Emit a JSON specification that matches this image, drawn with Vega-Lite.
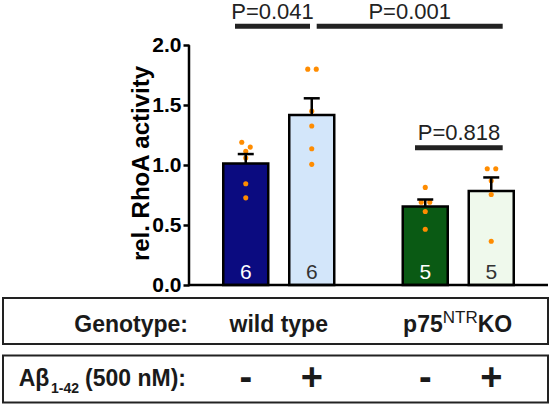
{
  "$schema": "https://vega.github.io/schema/vega-lite/v6.json",
  "padding": {"left": 2, "top": 0, "right": 0, "bottom": 0},
  "spacing": 0,
  "config": {"font": "Liberation Sans", "view": {"stroke": null}},
  "datasets": {
    "bars": [
      {"genotype": "wild type", "treatment": "-", "group": "WT-", "mean": 1.014, "upper": 1.092, "n": 6},
      {"genotype": "wild type", "treatment": "+", "group": "WT+", "mean": 1.418, "upper": 1.557, "n": 6},
      {"genotype": "p75NTRKO", "treatment": "-", "group": "KO-", "mean": 0.655, "upper": 0.713, "n": 5},
      {"genotype": "p75NTRKO", "treatment": "+", "group": "KO+", "mean": 0.783, "upper": 0.897, "n": 5}
    ],
    "points": [
      {"genotype": "wild type", "treatment": "-", "slot": "L", "value": 1.19},
      {"genotype": "wild type", "treatment": "-", "slot": "R", "value": 1.15},
      {"genotype": "wild type", "treatment": "-", "slot": "C", "value": 1.115},
      {"genotype": "wild type", "treatment": "-", "slot": "C", "value": 1.06},
      {"genotype": "wild type", "treatment": "-", "slot": "C", "value": 0.844},
      {"genotype": "wild type", "treatment": "-", "slot": "C", "value": 0.727},
      {"genotype": "wild type", "treatment": "+", "slot": "L", "value": 1.8},
      {"genotype": "wild type", "treatment": "+", "slot": "R", "value": 1.8},
      {"genotype": "wild type", "treatment": "+", "slot": "C", "value": 1.45},
      {"genotype": "wild type", "treatment": "+", "slot": "C", "value": 1.326},
      {"genotype": "wild type", "treatment": "+", "slot": "C", "value": 1.136},
      {"genotype": "wild type", "treatment": "+", "slot": "C", "value": 1.006},
      {"genotype": "p75NTRKO", "treatment": "-", "slot": "C", "value": 0.814},
      {"genotype": "p75NTRKO", "treatment": "-", "slot": "L", "value": 0.691},
      {"genotype": "p75NTRKO", "treatment": "-", "slot": "R", "value": 0.691},
      {"genotype": "p75NTRKO", "treatment": "-", "slot": "C", "value": 0.613},
      {"genotype": "p75NTRKO", "treatment": "-", "slot": "C", "value": 0.465},
      {"genotype": "p75NTRKO", "treatment": "+", "slot": "L", "value": 0.969},
      {"genotype": "p75NTRKO", "treatment": "+", "slot": "R", "value": 0.969},
      {"genotype": "p75NTRKO", "treatment": "+", "slot": "C", "value": 0.869},
      {"genotype": "p75NTRKO", "treatment": "+", "slot": "C", "value": 0.755},
      {"genotype": "p75NTRKO", "treatment": "+", "slot": "C", "value": 0.365}
    ],
    "sig": [
      {"label": "P=0.041", "from": "wild type", "to": "wild type", "level": 2.157},
      {"label": "P=0.001", "from": "wild type", "to": "p75NTRKO", "level": 2.157},
      {"label": "P=0.818", "from": "p75NTRKO", "to": "p75NTRKO", "level": 1.144}
    ],
    "one": [{}]
  },
  "vconcat": [
    {
      "width": 545,
      "height": 295,
      "layer": [
        {
          "data": {"name": "bars"},
          "mark": {"type": "bar", "stroke": "black", "strokeWidth": 2.5},
          "encoding": {
            "x": {"field": "genotype", "type": "nominal", "axis": null,
                  "scale": {"type": "band", "domain": ["label", "wild type", "p75NTRKO"], "paddingInner": 0, "paddingOuter": 0.0181, "align": 1, "round": false}},
            "xOffset": {"field": "treatment", "type": "nominal",
                  "scale": {"type": "band", "domain": ["-", "+"], "paddingInner": 0.31818, "paddingOuter": 0.51894, "round": false}},
            "y": {"field": "mean", "type": "quantitative",
                  "scale": {"domain": [-0.1, 2.36], "nice": false, "zero": false},
                  "axis": {"values": [0, 0.5, 1, 1.5, 2], "format": ".1f", "offset": -186, "domain": false, "grid": false,
                           "labelFontSize": 21, "labelFontWeight": "bold", "labelColor": "black", "labelPadding": 2,
                           "tickColor": "black", "tickWidth": 2.5, "tickSize": 6,
                           "title": "rel. RhoA activity", "titleFontSize": 24, "titleFontWeight": "bold", "titleColor": "black", "titlePadding": -2, "titleY": 161}},
            "y2": {"datum": 0},
            "fill": {"field": "group", "type": "nominal", "legend": null,
                     "scale": {"domain": ["WT-", "WT+", "KO-", "KO+"], "range": ["#0b0b80", "#d3e6fa", "#0a5a14", "#eff9ec"]}}
          }
        },
        {
          "data": {"name": "bars"},
          "mark": {"type": "text", "fontSize": 21, "baseline": "alphabetic", "dy": -6},
          "encoding": {
            "x": {"field": "genotype", "type": "nominal"},
            "xOffset": {"field": "treatment", "type": "nominal"},
            "y": {"datum": 0, "type": "quantitative"},
            "text": {"field": "n", "type": "nominal"},
            "color": {"condition": {"test": "datum.treatment === '-'", "value": "white"}, "value": "#333333"}
          }
        },
        {
          "data": {"name": "points"},
          "transform": [{"filter": "datum.treatment === '-' && datum.slot === 'L'"}],
          "mark": {"type": "point", "filled": true, "size": 26, "color": "#ff8c00", "opacity": 1},
          "encoding": {"x": {"field": "genotype", "type": "nominal", "bandPosition": 0.2939}, "y": {"field": "value", "type": "quantitative"}}
        },
        {
          "data": {"name": "points"},
          "transform": [{"filter": "datum.treatment === '-' && datum.slot === 'C'"}],
          "mark": {"type": "point", "filled": true, "size": 26, "color": "#ff8c00", "opacity": 1},
          "encoding": {"x": {"field": "genotype", "type": "nominal", "bandPosition": 0.3162}, "y": {"field": "value", "type": "quantitative"}}
        },
        {
          "data": {"name": "points"},
          "transform": [{"filter": "datum.treatment === '-' && datum.slot === 'R'"}],
          "mark": {"type": "point", "filled": true, "size": 26, "color": "#ff8c00", "opacity": 1},
          "encoding": {"x": {"field": "genotype", "type": "nominal", "bandPosition": 0.3413}, "y": {"field": "value", "type": "quantitative"}}
        },
        {
          "data": {"name": "points"},
          "transform": [{"filter": "datum.treatment === '+' && datum.slot === 'L'"}],
          "mark": {"type": "point", "filled": true, "size": 26, "color": "#ff8c00", "opacity": 1},
          "encoding": {"x": {"field": "genotype", "type": "nominal", "bandPosition": 0.6616}, "y": {"field": "value", "type": "quantitative"}}
        },
        {
          "data": {"name": "points"},
          "transform": [{"filter": "datum.treatment === '+' && datum.slot === 'C'"}],
          "mark": {"type": "point", "filled": true, "size": 26, "color": "#ff8c00", "opacity": 1},
          "encoding": {"x": {"field": "genotype", "type": "nominal", "bandPosition": 0.6838}, "y": {"field": "value", "type": "quantitative"}}
        },
        {
          "data": {"name": "points"},
          "transform": [{"filter": "datum.treatment === '+' && datum.slot === 'R'"}],
          "mark": {"type": "point", "filled": true, "size": 26, "color": "#ff8c00", "opacity": 1},
          "encoding": {"x": {"field": "genotype", "type": "nominal", "bandPosition": 0.709}, "y": {"field": "value", "type": "quantitative"}}
        },
        {
          "data": {"name": "bars"},
          "mark": {"type": "rule", "strokeWidth": 2.5, "color": "black"},
          "encoding": {
            "x": {"field": "genotype", "type": "nominal"},
            "xOffset": {"field": "treatment", "type": "nominal"},
            "y": {"field": "mean", "type": "quantitative"},
            "y2": {"field": "upper"}
          }
        },
        {
          "data": {"name": "bars"},
          "mark": {"type": "tick", "orient": "horizontal", "size": 16, "thickness": 2.5, "color": "black", "opacity": 1},
          "encoding": {
            "x": {"field": "genotype", "type": "nominal"},
            "xOffset": {"field": "treatment", "type": "nominal"},
            "y": {"field": "upper", "type": "quantitative"}
          }
        },
        {
          "data": {"name": "one"},
          "mark": {"type": "rule", "strokeWidth": 2.5, "color": "black"},
          "encoding": {
            "x": {"datum": "wild type", "type": "nominal", "bandPosition": 0},
            "y": {"datum": 0, "type": "quantitative"},
            "y2": {"datum": 2}
          }
        },
        {
          "data": {"name": "one"},
          "mark": {"type": "rule", "strokeWidth": 2.5, "color": "black"},
          "encoding": {
            "x": {"datum": "wild type", "type": "nominal", "bandPosition": 0},
            "x2": {"datum": "p75NTRKO", "bandPosition": 1},
            "y": {"datum": 0, "type": "quantitative"}
          }
        },
        {
          "data": {"name": "sig"},
          "transform": [{"filter": "datum.label === 'P=0.041'"}],
          "layer": [
            {"mark": {"type": "rule", "strokeWidth": 5, "color": "#222222"},
             "encoding": {"x": {"field": "from", "type": "nominal", "bandPosition": 0.2563}, "x2": {"field": "to", "bandPosition": 0.6741}, "y": {"field": "level", "type": "quantitative"}}},
            {"mark": {"type": "text", "fontSize": 22, "baseline": "alphabetic", "dy": -7.5, "color": "#222222"},
             "encoding": {"x": {"field": "from", "type": "nominal", "bandPosition": 0.4652}, "y": {"field": "level", "type": "quantitative"}, "text": {"field": "label"}}}
          ]
        },
        {
          "data": {"name": "sig"},
          "transform": [{"filter": "datum.label === 'P=0.001'"}],
          "layer": [
            {"mark": {"type": "rule", "strokeWidth": 5, "color": "#222222"},
             "encoding": {"x": {"field": "from", "type": "nominal", "bandPosition": 0.7114}, "x2": {"field": "to", "bandPosition": 0.7476}, "y": {"field": "level", "type": "quantitative"}}},
            {"mark": {"type": "text", "fontSize": 22, "baseline": "alphabetic", "dy": -7.5, "color": "#222222"},
             "encoding": {"x": {"field": "to", "type": "nominal", "bandPosition": 0.2295}, "y": {"field": "level", "type": "quantitative"}, "text": {"field": "label"}}}
          ]
        },
        {
          "data": {"name": "sig"},
          "transform": [{"filter": "datum.label === 'P=0.818'"}],
          "layer": [
            {"mark": {"type": "rule", "strokeWidth": 5, "color": "#222222"},
             "encoding": {"x": {"field": "from", "type": "nominal", "bandPosition": 0.2591}, "x2": {"field": "to", "bandPosition": 0.7476}, "y": {"field": "level", "type": "quantitative"}}},
            {"mark": {"type": "text", "fontSize": 22, "baseline": "alphabetic", "dy": -7.5, "color": "#222222"},
             "encoding": {"x": {"field": "from", "type": "nominal", "bandPosition": 0.5042}, "y": {"field": "level", "type": "quantitative"}, "text": {"field": "label"}}}
          ]
        }
      ]
    },
    {
      "spacing": 9.5,
      "vconcat": [
        {
          "width": 545,
          "height": 46,
          "view": {"stroke": "#222222", "strokeWidth": 2},
          "data": {"name": "one"},
          "layer": [
            {
              "mark": {"type": "text", "fontSize": 23, "fontWeight": "bold", "align": "right", "baseline": "alphabetic", "dx": -1, "dy": 10.7, "color": "#1a1a1a"},
              "encoding": {
                "x": {"datum": "label", "type": "nominal", "bandPosition": 1, "axis": null,
                      "scale": {"type": "band", "domain": ["label", "wild type", "p75NTRKO"], "paddingInner": 0, "paddingOuter": 0.0181, "align": 1, "round": false}},
                "text": {"value": "Genotype:"}
              }
            },
            {
              "mark": {"type": "text", "fontSize": 23, "fontWeight": "bold", "align": "center", "baseline": "alphabetic", "dy": 10.7, "color": "#1a1a1a"},
              "encoding": {"x": {"datum": "wild type", "type": "nominal", "bandPosition": 0.5}, "text": {"value": "wild type"}}
            },
            {
              "mark": {"type": "text", "fontSize": 23, "fontWeight": "bold", "align": "right", "baseline": "alphabetic", "dx": -15.5, "dy": 10.7, "color": "#1a1a1a"},
              "encoding": {"x": {"datum": "p75NTRKO", "type": "nominal", "bandPosition": 0.5}, "text": {"value": "p75"}}
            },
            {
              "mark": {"type": "text", "fontSize": 17, "fontWeight": "normal", "align": "left", "baseline": "alphabetic", "dx": -15.5, "dy": 2.4, "color": "#1a1a1a"},
              "encoding": {"x": {"datum": "p75NTRKO", "type": "nominal", "bandPosition": 0.5}, "text": {"value": "NTR"}}
            },
            {
              "mark": {"type": "text", "fontSize": 23, "fontWeight": "bold", "align": "left", "baseline": "alphabetic", "dx": 19.5, "dy": 10.7, "color": "#1a1a1a"},
              "encoding": {"x": {"datum": "p75NTRKO", "type": "nominal", "bandPosition": 0.5}, "text": {"value": "KO"}}
            }
          ]
        },
        {
          "width": 545,
          "height": 47,
          "view": {"stroke": "#222222", "strokeWidth": 2},
          "layer": [
            {
              "data": {"name": "one"},
              "mark": {"type": "text", "fontSize": 23, "fontWeight": "bold", "align": "right", "baseline": "alphabetic", "dx": -3, "dy": 6.5, "color": "#1a1a1a"},
              "encoding": {
                "x": {"datum": "label", "type": "nominal", "bandPosition": 1, "axis": null,
                      "scale": {"type": "band", "domain": ["label", "wild type", "p75NTRKO"], "paddingInner": 0, "paddingOuter": 0.0181, "align": 1, "round": false}},
                "text": {"value": "(500 nM):"}
              }
            },
            {
              "data": {"name": "one"},
              "mark": {"type": "text", "fontSize": 14, "fontWeight": "bold", "align": "right", "baseline": "alphabetic", "dx": -110, "dy": 13.9, "color": "#1a1a1a"},
              "encoding": {"x": {"datum": "label", "type": "nominal", "bandPosition": 1}, "text": {"value": "1-42"}}
            },
            {
              "data": {"name": "one"},
              "mark": {"type": "text", "fontSize": 23, "fontWeight": "bold", "align": "right", "baseline": "alphabetic", "dx": -139.7, "dy": 6.5, "color": "#1a1a1a"},
              "encoding": {"x": {"datum": "label", "type": "nominal", "bandPosition": 1}, "text": {"value": "Aβ"}}
            },
            {
              "data": {"name": "bars"},
              "mark": {"type": "text", "fontSize": 38, "fontWeight": "bold", "align": "center", "baseline": "middle", "color": "#1a1a1a"},
              "encoding": {
                "x": {"field": "genotype", "type": "nominal"},
                "xOffset": {"field": "treatment", "type": "nominal",
                      "scale": {"type": "band", "domain": ["-", "+"], "paddingInner": 0.31818, "paddingOuter": 0.51894, "round": false}},
                "text": {"field": "treatment"}
              }
            }
          ]
        }
      ]
    }
  ]
}
